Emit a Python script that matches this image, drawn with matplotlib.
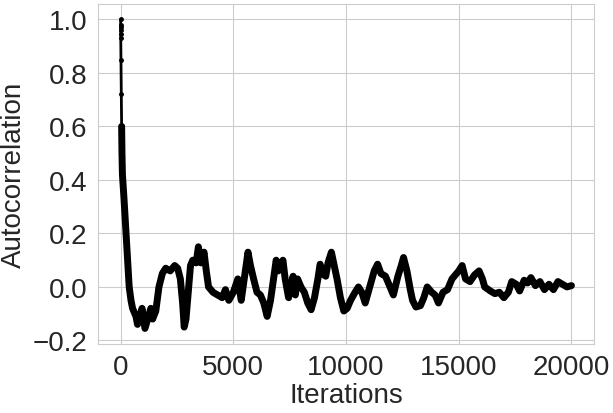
import matplotlib
matplotlib.use('Agg')
import matplotlib.pyplot as plt
import seaborn as sns

# Лаги (итерации) и значения автокорреляции
lags = [0, 1, 2, 3, 4, 6, 15, 30, 45, 60, 80, 150, 240, 300, 380, 460, 530, 680, 750, 850,
        950, 1080, 1200, 1340, 1420, 1560, 1700, 1850, 2000, 2200, 2400, 2530, 2650, 2750, 2820,
        2900, 3000, 3100, 3200, 3350, 3450, 3560, 3700, 3800, 3900, 4100, 4300, 4500, 4650,
        4800, 5000, 5200, 5350, 5500, 5650, 5760, 5900, 6050, 6200, 6350, 6500, 6650, 6800,
        6900, 7000, 7200, 7300, 7450, 7650, 7750, 7850, 8000, 8150, 8300, 8450, 8600, 8750,
        8850, 8950, 9100, 9200, 9350, 9450, 9600, 9750, 9900, 10050, 10200, 10400, 10550,
        10700, 10850, 11050, 11250, 11400, 11550, 11750, 11950, 12100, 12300, 12450, 12550,
        12700, 12850, 12950, 13100, 13300, 13450, 13600, 13800, 13950, 14100, 14300, 14500,
        14700, 14850, 15000, 15150, 15300, 15500, 15700, 15900, 16050, 16150, 16400, 16600,
        16800, 17000, 17200, 17350, 17550, 17700, 17900, 18050, 18200, 18400, 18600, 18800,
        19000, 19200, 19400, 19600, 19800, 19999]
acf = [1.0, 0.98, 0.97, 0.96, 0.945, 0.93, 0.85, 0.72, 0.6, 0.5, 0.42, 0.33, 0.2, 0.12, 0.0,
       -0.05, -0.08, -0.11, -0.14, -0.11, -0.08, -0.155, -0.12, -0.08, -0.12, -0.09, 0.0, 0.05,
       0.07, 0.06, 0.08, 0.07, 0.03, -0.06, -0.15, -0.12, -0.02, 0.08, 0.1, 0.09, 0.15, 0.09,
       0.13, 0.06, 0.0, -0.02, -0.03, -0.04, -0.01, -0.05, -0.02, 0.03, -0.05, 0.04, 0.13,
       0.08, 0.03, -0.02, -0.03, -0.06, -0.11, -0.05, 0.04, 0.1, 0.06, 0.1, 0.03, -0.04, 0.04,
       -0.03, 0.03, 0.0, -0.02, -0.06, -0.085, -0.04, 0.03, 0.085, 0.05, 0.04, 0.09, 0.13,
       0.09, 0.03, -0.04, -0.09, -0.08, -0.05, -0.02, 0.0, -0.02, -0.06, 0.0, 0.06, 0.085,
       0.05, 0.04, 0.0, -0.03, 0.04, 0.08, 0.11, 0.06, -0.01, -0.05, -0.075, -0.07, -0.04,
       0.0, -0.02, -0.03, -0.06, -0.02, -0.01, 0.03, 0.045, 0.06, 0.08, 0.03, 0.02, 0.045,
       0.06, 0.03, 0.0, -0.015, -0.025, -0.02, -0.04, -0.02, 0.02, 0.01, -0.015, 0.025, 0.015,
       0.035, 0.005, 0.02, -0.01, 0.01, -0.01, 0.02, 0.01, 0.0, 0.005]

sns.set_style('whitegrid')
plt.rcParams['font.family'] = ['Liberation Sans', 'DejaVu Sans']

fig = plt.figure(figsize=(6.13, 4.14), dpi=100)
ax = fig.add_axes([0.160, 0.167, 0.809, 0.821])

# Начало (редкие точки у 1.0) тонкой линией с маркерами, остальное толстой
ax.plot(lags[:9], acf[:9], color='black', linewidth=2, marker='.', markersize=5)
ax.plot(lags[8:], acf[8:], color='black', linewidth=5, marker='.', markersize=4,
        solid_joinstyle='round', solid_capstyle='round')

ax.set_xticks([0, 5000, 10000, 15000, 20000])
ax.set_yticks([-0.2, 0.0, 0.2, 0.4, 0.6, 0.8, 1.0])
ax.tick_params(labelsize=20, colors='#262626', pad=4)
ax.set_xlabel('Iterations', fontsize=20, color='#262626', labelpad=1)
ax.set_ylabel('Autocorrelation', fontsize=20, color='#262626', labelpad=4)

fig.savefig('out.png', dpi=100)
